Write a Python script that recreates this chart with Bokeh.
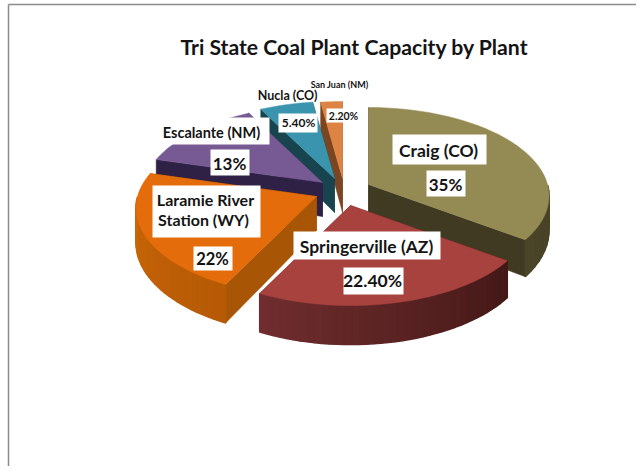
import numpy as np
from bokeh.plotting import figure
from bokeh.models import Range1d
from bokeh.core.properties import value
from bokeh.embed import file_html
from bokeh.resources import INLINE

# ---- data ----
PLANTS = ["Craig (CO)", "Springerville (AZ)", "Laramie River\nStation  (WY)",
          "Escalante (NM)", "Nucla (CO)", "San Juan (NM)"]
VALUES = [35.0, 22.4, 22.0, 13.0, 5.4, 2.2]
SHARE_LABELS = ["35%", "22.40%", "22%", "13%", "5.40%", "2.20%"]
TITLE = "Tri State Coal Plant Capacity by Plant"

# ---- styles / layout ----
TOP = ["#948a54", "#a8423f", "#e46c0a", "#775a93", "#3b94ad", "#dd8444"]
CUT = ["#403a22", "#5a1c1b", "#a85506", "#2f2045", "#17444f", "#7a4520"]
WALL_A = ["#3f3a20", "#431816", "#b65a06", "#3a2a55", "#1b5262", "#8a5025"]
WALL_B = ["#4a4428", "#702d2f", "#d06a08", "#2f2045", "#17444f", "#7a4520"]
APEX = [(368, 184), (350, 205), (316, 196), (322, 182), (334, 178), (342, 178)]
DRAW_ORDER = [5, 4, 3, 0, 2, 1]
RX, RY, PERSP, DEPTH = 179.0, 87.0, 0.13, 34.0

NAME_BOX = [(392, 486, 134, 164), (293, 440, 231, 259), (152, 260, 185, 237),
            (158, 269, 117, 144), None, None]
SHARE_BOX = [(426, 465, 170, 196), (343, 403, 267, 294), (193, 232, 246, 270),
             (210, 249, 149, 175), (278, 317, 113, 132), (326, 358, 108, 122)]
NAME_POS = [(438, 150), (366, 246), (205, 209), (211, 132), (287, 95), (339, 84)]
SHARE_POS = [(445, 184), (372, 280), (212, 258), (229, 163), (298, 122), (343, 115)]
NAME_SIZE = [17.5, 17.5, 16, 14.5, 12.5, 9]
SHARE_SIZE = [17, 17.5, 16.5, 17, 12, 10.5]


def project(theta, apex, z=0.0):
    u, v = np.sin(theta), -np.cos(theta)
    f = 1.0 / (1.0 - PERSP * v)
    return apex[0] + RX * u * f, apex[1] + (RY * v + z) * f


def mix(a, b, t):
    ca = [int(a[i:i + 2], 16) for i in (1, 3, 5)]
    cb = [int(b[i:i + 2], 16) for i in (1, 3, 5)]
    return "#%02x%02x%02x" % tuple(int(round(x + (y - x) * t)) for x, y in zip(ca, cb))


p = figure(width=636, height=466, x_range=Range1d(0, 636), y_range=Range1d(466, 0),
           output_backend="svg", toolbar_location=None, min_border=0,
           x_axis_location=None, y_axis_location=None,
           outline_line_color=None, background_fill_color="white")
p.grid.visible = False

# frame of the picture
p.segment([8, 8], [4, 4], [8, 636], [466, 4], line_color="#8c8c8c", line_width=1.5)

edges = np.concatenate([[0], np.cumsum(VALUES)]) / sum(VALUES) * 2 * np.pi

for i in DRAW_ORDER:
    a0, a1 = edges[i], edges[i + 1]
    apex = APEX[i]
    th = np.linspace(a0, a1, 40)
    ax, ay = project(th, apex)
    # cut faces
    for a in (a0, a1):
        ex, ey = project(a, apex)
        ex2, ey2 = project(a, apex, DEPTH)
        p.patch([apex[0], ex, ex2, apex[0]],
                [apex[1], ey, ey2, apex[1] + DEPTH],
                fill_color=CUT[i], line_color=CUT[i], line_width=0.5)
    # outer wall, only where it faces the viewer, shaded step by step
    bx, by = project(th, apex, DEPTH)
    for k in range(len(th) - 1):
        if np.cos((th[k] + th[k + 1]) / 2) >= 0:
            continue
        c = mix(WALL_A[i], WALL_B[i], k / (len(th) - 2))
        p.patch([ax[k], ax[k + 1], bx[k + 1], bx[k]], [ay[k], ay[k + 1], by[k + 1], by[k]],
                fill_color=c, line_color=c, line_width=1.5)
    # top face
    p.patch(np.r_[apex[0], ax], np.r_[apex[1], ay], fill_color=TOP[i], line_color=TOP[i], line_width=0.5)

for boxes in (NAME_BOX, SHARE_BOX):
    for b in boxes:
        if b:
            p.quad(left=b[0], right=b[1], top=b[2], bottom=b[3], fill_color="white", line_color=None)


def label(txt, pos, size):
    p.text([pos[0]], [pos[1]], text=[txt], text_font=value("Lato"), text_font_style="bold",
           text_font_size=f"{size}px", text_color="#141414", text_align="center",
           text_baseline="middle", text_line_height=1.08)


for i in range(len(PLANTS)):
    label(PLANTS[i], NAME_POS[i], NAME_SIZE[i])
    label(SHARE_LABELS[i], SHARE_POS[i], SHARE_SIZE[i])
label(TITLE, (354, 46), 21.2)

open("out.html", "w").write(file_html(p, INLINE))
